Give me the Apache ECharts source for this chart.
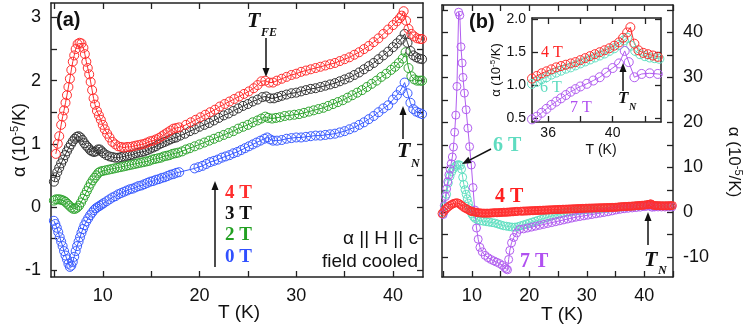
<!DOCTYPE html>
<html><head><meta charset="utf-8">
<script src="https://cdn.jsdelivr.net/npm/echarts@6/dist/echarts.min.js"></script>
<style>html,body{margin:0;padding:0;background:#fff}#c{width:749px;height:336px}</style>
</head><body><div id="c"></div>
<script>
// ---------- DATA (T in K, alpha in 1e-5/K) ----------
// Panel (a): field cooled, alpha || H || c
const a_4T = [[5.15,0.84],[5.35,1.0],[5.5,1.12],[5.7,1.3],[5.85,1.43],[6.0,1.53],[6.15,1.65],[6.3,1.77],[6.45,1.9],[6.6,2.03],[6.75,2.17],[6.9,2.3],[7.05,2.4],[7.2,2.5],[7.4,2.58],[7.6,2.6],[7.8,2.59],[8.0,2.52],[8.15,2.42],[8.3,2.3],[8.45,2.2],[8.6,2.1],[8.75,1.98],[8.9,1.85],[9.05,1.72],[9.2,1.62],[9.4,1.52],[9.6,1.45],[9.8,1.38],[10.0,1.3],[10.2,1.23],[10.45,1.16],[10.7,1.1],[11.0,1.03],[11.3,0.99],[11.6,0.96],[11.9,0.95],[12.2,0.94],[12.5,0.95],[12.8,0.95],[13.1,0.96],[13.4,0.97],[13.7,0.98],[14.0,0.99],[14.3,1.0],[14.6,1.02],[14.9,1.04],[15.2,1.05],[15.5,1.07],[15.8,1.09],[16.1,1.12],[16.4,1.15],[16.7,1.18],[17.0,1.21],[17.3,1.24],[17.6,1.25],[17.9,1.26],[18.6,1.3],[19.1,1.34],[19.6,1.38],[20.1,1.42],[20.6,1.46],[21.1,1.5],[21.6,1.54],[22.1,1.59],[22.6,1.63],[23.1,1.67],[23.6,1.71],[24.1,1.75],[24.6,1.79],[25.1,1.83],[25.6,1.88],[26.0,1.93],[26.4,1.99],[26.8,2.0],[27.2,1.97],[27.6,1.97],[28.0,2.0],[28.5,2.03],[29.0,2.06],[29.5,2.09],[30.0,2.11],[30.5,2.14],[31.0,2.16],[31.5,2.18],[32.0,2.2],[32.5,2.22],[33.0,2.24],[33.5,2.26],[34.0,2.28],[34.5,2.31],[35.0,2.34],[35.5,2.37],[36.0,2.41],[36.5,2.45],[37.0,2.5],[37.5,2.55],[38.0,2.61],[38.5,2.67],[39.0,2.74],[39.5,2.81],[40.0,2.88],[40.4,2.94],[40.7,2.99],[40.9,3.03],[41.1,3.1],[41.35,2.95],[41.6,2.82],[41.9,2.74],[42.2,2.7],[42.5,2.67],[42.8,2.66],[43.0,2.66]];
const a_3T = [[4.95,0.4],[5.1,0.47],[5.3,0.55],[5.5,0.62],[5.7,0.69],[5.9,0.75],[6.1,0.82],[6.3,0.88],[6.5,0.94],[6.7,0.99],[6.9,1.04],[7.1,1.08],[7.3,1.11],[7.5,1.12],[7.7,1.1],[7.9,1.06],[8.1,1.01],[8.3,0.97],[8.5,0.94],[8.7,0.9],[8.9,0.88],[9.1,0.87],[9.3,0.88],[9.5,0.91],[9.7,0.91],[9.9,0.88],[10.1,0.85],[10.4,0.82],[10.7,0.8],[11.0,0.79],[11.3,0.78],[11.6,0.78],[11.9,0.79],[12.2,0.8],[12.5,0.81],[12.8,0.82],[13.1,0.83],[13.4,0.85],[13.7,0.86],[14.0,0.87],[14.3,0.88],[14.6,0.9],[14.9,0.92],[15.2,0.94],[15.5,0.96],[15.8,0.99],[16.1,1.01],[16.4,1.03],[16.7,1.05],[17.0,1.07],[17.3,1.09],[17.6,1.1],[18.0,1.13],[18.5,1.16],[19.0,1.2],[19.5,1.23],[20.0,1.27],[20.5,1.3],[21.0,1.33],[21.5,1.37],[22.0,1.41],[22.5,1.45],[23.0,1.48],[23.5,1.52],[24.0,1.56],[24.5,1.6],[25.0,1.63],[25.5,1.67],[26.0,1.7],[26.5,1.74],[26.9,1.75],[27.3,1.72],[27.7,1.72],[28.1,1.74],[28.5,1.76],[29.0,1.78],[29.5,1.8],[30.0,1.81],[30.5,1.83],[31.0,1.85],[31.5,1.87],[32.0,1.88],[32.5,1.9],[33.0,1.92],[33.5,1.94],[34.0,1.96],[34.5,1.99],[35.0,2.02],[35.5,2.05],[36.0,2.09],[36.5,2.13],[37.0,2.18],[37.5,2.23],[38.0,2.28],[38.5,2.34],[39.0,2.4],[39.5,2.46],[40.0,2.53],[40.4,2.59],[40.8,2.65],[41.2,2.74],[41.5,2.6],[41.8,2.47],[42.1,2.4],[42.4,2.37],[42.7,2.35],[43.0,2.34]];
const a_2T = [[4.95,0.1],[5.15,0.12],[5.35,0.12],[5.55,0.12],[5.75,0.11],[5.95,0.1],[6.15,0.08],[6.35,0.05],[6.55,0.02],[6.75,-0.01],[6.95,-0.03],[7.15,-0.03],[7.35,-0.01],[7.55,0.02],[7.75,0.07],[7.95,0.13],[8.15,0.19],[8.35,0.25],[8.55,0.31],[8.75,0.37],[8.95,0.42],[9.15,0.46],[9.35,0.5],[9.55,0.54],[9.75,0.56],[10.0,0.57],[10.3,0.58],[10.6,0.59],[10.9,0.6],[11.2,0.61],[11.5,0.62],[11.8,0.63],[12.1,0.64],[12.4,0.65],[12.7,0.66],[13.0,0.67],[13.3,0.68],[13.6,0.69],[13.9,0.7],[14.2,0.71],[14.5,0.72],[14.8,0.73],[15.1,0.75],[15.4,0.76],[15.7,0.77],[16.0,0.78],[16.3,0.8],[16.6,0.81],[16.9,0.82],[17.2,0.84],[17.5,0.85],[17.8,0.86],[18.2,0.88],[18.6,0.91],[19.0,0.93],[19.5,0.96],[20.0,0.99],[20.5,1.02],[21.0,1.05],[21.5,1.08],[22.0,1.11],[22.5,1.14],[23.0,1.17],[23.5,1.2],[24.0,1.24],[24.5,1.27],[25.0,1.3],[25.5,1.34],[26.0,1.37],[26.4,1.4],[26.8,1.43],[27.1,1.41],[27.5,1.4],[27.9,1.41],[28.3,1.42],[28.8,1.44],[29.3,1.45],[29.8,1.46],[30.3,1.47],[30.8,1.49],[31.3,1.51],[31.8,1.53],[32.3,1.55],[32.8,1.57],[33.3,1.6],[33.8,1.63],[34.3,1.66],[34.8,1.69],[35.3,1.73],[35.8,1.77],[36.3,1.81],[36.8,1.85],[37.3,1.9],[37.8,1.95],[38.3,2.0],[38.8,2.06],[39.3,2.11],[39.8,2.17],[40.2,2.22],[40.6,2.28],[41.0,2.35],[41.3,2.45],[41.6,2.2],[41.9,2.07],[42.2,2.02],[42.5,2.0],[42.8,2.0],[43.0,2.0]];
const a_0T = [[4.95,-0.22],[5.1,-0.27],[5.25,-0.33],[5.4,-0.4],[5.55,-0.48],[5.7,-0.55],[5.85,-0.62],[6.0,-0.7],[6.15,-0.77],[6.3,-0.83],[6.45,-0.9],[6.6,-0.95],[6.75,-0.93],[6.9,-0.87],[7.05,-0.79],[7.2,-0.7],[7.35,-0.62],[7.5,-0.55],[7.65,-0.48],[7.8,-0.41],[7.95,-0.35],[8.1,-0.29],[8.3,-0.23],[8.5,-0.18],[8.7,-0.13],[8.9,-0.09],[9.1,-0.05],[9.3,-0.02],[9.5,0.0],[9.7,0.02],[9.9,0.04],[10.1,0.06],[10.4,0.09],[10.7,0.12],[11.0,0.15],[11.3,0.17],[11.6,0.2],[11.9,0.22],[12.2,0.24],[12.5,0.26],[12.8,0.28],[13.1,0.29],[13.4,0.31],[13.7,0.33],[14.0,0.34],[14.3,0.36],[14.6,0.38],[14.9,0.4],[15.2,0.41],[15.5,0.43],[15.8,0.44],[16.1,0.46],[16.4,0.47],[16.7,0.49],[17.0,0.51],[17.3,0.52],[17.6,0.54],[17.9,0.55],[19.5,0.61],[19.9,0.63],[20.3,0.65],[20.7,0.68],[21.1,0.71],[21.5,0.73],[21.9,0.75],[22.3,0.78],[22.7,0.8],[23.1,0.82],[23.5,0.85],[23.9,0.87],[24.3,0.9],[24.7,0.93],[25.1,0.96],[25.5,0.99],[25.9,1.02],[26.3,1.05],[26.7,1.08],[27.0,1.1],[27.3,1.07],[27.6,1.05],[28.0,1.05],[28.5,1.06],[29.0,1.08],[29.5,1.09],[30.0,1.1],[30.5,1.1],[31.0,1.11],[31.5,1.12],[32.0,1.13],[32.5,1.13],[33.0,1.14],[33.5,1.15],[34.0,1.16],[34.5,1.18],[35.0,1.2],[35.5,1.23],[36.0,1.26],[36.5,1.3],[37.0,1.34],[37.5,1.39],[38.0,1.44],[38.5,1.5],[39.0,1.56],[39.5,1.61],[40.0,1.7],[40.4,1.77],[40.8,1.85],[41.2,1.97],[41.5,1.8],[41.8,1.65],[42.1,1.55],[42.4,1.51],[42.7,1.49],[43.0,1.47]];

// Panel (b): main
const b_4T = [[4.8,-0.3],[5.1,0.2],[5.4,0.6],[5.7,1.0],[6.0,1.3],[6.3,1.6],[6.6,1.8],[6.9,2.0],[7.2,2.1],[7.5,2.1],[7.8,1.9],[8.1,1.6],[8.4,1.3],[8.7,1.0],[9.0,0.8],[9.3,0.6],[9.6,0.4],[9.8,0.25],[10.0,0.15],[10.25,0.1],[10.5,0.05],[10.75,0.0],[11.0,-0.1],[11.25,-0.12],[11.5,-0.15],[11.75,-0.18],[12.0,-0.2],[12.25,-0.2],[12.5,-0.2],[12.75,-0.2],[13.0,-0.2],[13.25,-0.18],[13.5,-0.15],[13.75,-0.12],[14.0,-0.1],[14.25,-0.1],[14.5,-0.1],[14.75,-0.08],[15.0,-0.05],[15.25,-0.03],[15.5,0.0],[15.75,0.0],[16.0,0.0],[16.25,0.03],[16.5,0.05],[16.75,0.08],[17.0,0.1],[17.25,0.12],[17.5,0.15],[17.75,0.18],[18.0,0.2],[18.5,0.23],[18.75,0.24],[19.0,0.26],[19.25,0.27],[19.5,0.28],[19.75,0.3],[20.0,0.31],[20.25,0.33],[20.5,0.34],[20.75,0.36],[21.0,0.37],[21.25,0.39],[21.5,0.4],[21.75,0.42],[22.0,0.43],[22.25,0.45],[22.5,0.46],[22.75,0.48],[23.0,0.49],[23.25,0.51],[23.5,0.52],[23.75,0.54],[24.0,0.55],[24.25,0.57],[24.5,0.58],[24.75,0.6],[25.0,0.61],[25.25,0.63],[25.5,0.64],[25.75,0.66],[26.0,0.67],[26.25,0.68],[26.5,0.69],[26.75,0.71],[27.0,0.72],[27.25,0.74],[27.5,0.75],[27.75,0.77],[28.0,0.78],[28.25,0.8],[28.5,0.81],[28.75,0.83],[29.0,0.84],[29.25,0.86],[29.5,0.87],[29.75,0.89],[30.0,0.9],[30.25,0.91],[30.5,0.92],[30.75,0.93],[31.0,0.94],[31.25,0.95],[31.5,0.96],[31.75,0.97],[32.0,0.98],[32.25,0.99],[32.5,1.0],[32.75,1.01],[33.0,1.02],[33.25,1.03],[33.5,1.04],[33.75,1.05],[34.0,1.06],[34.25,1.07],[34.5,1.08],[34.75,1.09],[35.0,1.1],[35.25,1.13],[35.5,1.17],[35.75,1.2],[36.0,1.23],[36.25,1.25],[36.5,1.27],[36.75,1.29],[37.0,1.3],[37.25,1.32],[37.5,1.34],[37.75,1.36],[38.0,1.38],[38.25,1.41],[38.5,1.43],[38.75,1.46],[39.0,1.48],[39.25,1.51],[39.5,1.53],[39.75,1.56],[40.0,1.59],[40.25,1.63],[40.5,1.68],[40.75,1.73],[41.0,1.82],[41.15,1.88],[41.4,1.63],[41.65,1.53],[41.9,1.49],[42.15,1.47],[42.4,1.46],[42.65,1.45],[42.9,1.44],[43.15,1.43],[43.4,1.43],[43.65,1.44],[43.9,1.44],[44.15,1.45],[44.4,1.46],[44.65,1.47],[44.9,1.5]];
const b_6T = [[5.0,-0.3],[5.3,1.3],[5.6,4.0],[5.9,6.5],[6.2,8.0],[6.5,9.0],[6.8,9.7],[7.1,10.2],[7.4,10.5],[7.7,10.6],[8.0,10.4],[8.2,9.6],[8.4,7.8],[8.6,6.2],[8.8,5.0],[9.0,4.0],[9.2,3.0],[9.4,2.0],[9.6,1.0],[9.8,0.2],[10.0,-0.4],[10.3,-1.0],[10.6,-1.4],[11.0,-1.7],[11.5,-1.9],[12.0,-2.0],[12.5,-2.1],[13.0,-2.2],[13.5,-2.3],[14.0,-2.4],[14.5,-2.6],[15.0,-2.8],[15.5,-3.0],[16.0,-3.1],[16.5,-3.2],[17.0,-3.3],[17.5,-3.3],[18.0,-3.2],[18.5,-3.0],[19.0,-2.8],[19.5,-2.6],[20.0,-2.4],[20.5,-2.2],[21.0,-2.0],[21.5,-1.8],[22.0,-1.6],[22.5,-1.4],[23.0,-1.2],[23.5,-1.0],[24.0,-0.8],[24.5,-0.6],[25.0,-0.45],[25.5,-0.3],[26.0,-0.15],[26.5,0.0],[27.0,0.1],[27.5,0.2],[28.0,0.3],[28.5,0.38],[29.0,0.45],[29.5,0.52],[30.0,0.58],[30.5,0.63],[31.0,0.68],[31.5,0.72],[32.0,0.76],[32.5,0.8],[33.0,0.84],[33.5,0.88],[34.0,0.92],[34.5,0.96],[35.0,1.02],[35.5,1.08],[36.0,1.14],[36.5,1.19],[37.0,1.24],[37.5,1.28],[38.0,1.33],[38.5,1.38],[39.0,1.43],[39.5,1.48],[40.0,1.55],[40.5,1.64],[40.9,1.72],[41.3,1.55],[41.7,1.47],[42.2,1.43],[42.7,1.41],[43.2,1.4],[43.7,1.4],[44.2,1.4],[44.7,1.41]];
const b_7T = [[5.0,-0.5],[5.2,1.5],[5.4,3.5],[5.6,5.2],[5.8,6.8],[6.0,8.3],[6.2,9.6],[6.4,10.8],[6.6,12.3],[6.8,14.5],[7.0,17.8],[7.2,21.6],[7.4,28.0],[7.7,44.5],[7.9,43.8],[8.1,36.8],[8.3,33.2],[8.45,30.0],[8.7,26.5],[9.0,22.8],[9.3,18.7],[9.6,14.6],[9.9,10.5],[10.2,5.5],[10.5,0.5],[10.8,-3.5],[11.1,-6.0],[11.4,-7.8],[11.8,-8.8],[12.3,-9.6],[12.8,-10.1],[13.3,-10.5],[13.8,-10.8],[14.3,-11.1],[14.8,-11.4],[15.3,-11.8],[15.7,-12.3],[16.0,-12.6],[16.2,-12.8],[16.4,-10.5],[16.6,-8.5],[16.9,-6.8],[17.3,-5.6],[17.8,-4.6],[18.3,-3.8],[19.0,-3.7],[19.7,-3.5],[20.4,-3.3],[21.1,-3.1],[21.8,-2.9],[22.5,-2.7],[23.2,-2.5],[23.9,-2.3],[24.6,-2.1],[25.3,-1.9],[26.0,-1.7],[26.7,-1.5],[27.4,-1.3],[28.1,-1.1],[28.8,-0.95],[29.5,-0.8],[30.2,-0.65],[30.9,-0.5],[31.6,-0.35],[32.3,-0.2],[33.0,-0.05],[33.7,0.1],[34.4,0.3],[35.1,0.5],[35.8,0.65],[36.5,0.78],[37.2,0.88],[37.9,0.96],[38.6,1.04],[39.3,1.13],[40.0,1.26],[40.4,1.33],[40.75,1.52],[41.0,1.35],[41.35,1.12],[41.8,1.17],[42.4,1.18],[43.0,1.17],[43.6,1.16],[44.2,1.16],[44.8,1.16]];

// Panel (b): inset near T_N
const in_4T = [[35.0,1.1],[35.3,1.14],[35.6,1.18],[35.9,1.21],[36.2,1.24],[36.5,1.27],[36.8,1.29],[37.1,1.31],[37.4,1.33],[37.7,1.35],[38.0,1.38],[38.3,1.41],[38.6,1.44],[38.9,1.47],[39.2,1.5],[39.5,1.53],[39.8,1.56],[40.1,1.6],[40.4,1.65],[40.65,1.72],[40.9,1.8],[41.1,1.88],[41.35,1.63],[41.6,1.53],[41.9,1.49],[42.2,1.47],[42.5,1.45],[42.8,1.43],[43.05,1.43]];
const in_6T = [[35.0,1.02],[35.3,1.05],[35.6,1.09],[35.9,1.12],[36.2,1.16],[36.5,1.19],[36.8,1.22],[37.1,1.25],[37.4,1.27],[37.7,1.3],[38.0,1.33],[38.3,1.36],[38.6,1.39],[38.9,1.42],[39.2,1.45],[39.5,1.48],[39.8,1.52],[40.1,1.56],[40.4,1.61],[40.7,1.68],[40.9,1.72],[41.15,1.6],[41.4,1.52],[41.7,1.47],[42.0,1.44],[42.3,1.42],[42.6,1.41],[42.9,1.4]];
const in_7T = [[35.0,0.48],[35.3,0.52],[35.6,0.58],[35.9,0.64],[36.2,0.7],[36.5,0.75],[36.8,0.8],[37.1,0.85],[37.4,0.9],[37.7,0.94],[38.0,0.98],[38.4,1.02],[38.8,1.07],[39.2,1.12],[39.6,1.19],[40.0,1.26],[40.4,1.33],[40.75,1.52],[41.0,1.35],[41.35,1.12],[41.8,1.17],[42.3,1.18],[42.8,1.17],[43.1,1.16]];

// Tick / label positions
const aXTicks = [5,10,15,20,25,30,35,40];
const aXLabels = [10,20,30,40];
const aYTicks = [-1,-0.5,0,0.5,1,1.5,2,2.5,3];
const aYLabels = [-1,0,1,2,3];
const bXTicks = [5,10,15,20,25,30,35,40,45];
const bXLabels = [10,20,30,40];
const bYTicks = [-10,-5,0,5,10,15,20,25,30,35,40,45];
const bYLabels = [-10,0,10,20,30,40];
const inXTicks = [36,38,40,42];
const inXLabels = [36,40];
const inYTicks = [0.5,1.0,1.5,2.0];
const inYLabels = [0.5,1.0,1.5,2.0];

// ---------- STYLE ----------
const SANS = '"Liberation Sans", Arial, sans-serif';
const SERIF = '"Liberation Serif", "Times New Roman", serif';
const C = {red:'#ff2e2e', black:'#333333', green:'#2fa52f', blue:'#3a5cff', cyan:'#62e0c2', purple:'#b25ef0'};
const AX = '#222';

function axis(gi, pos, min, max, ticks, labels, fs, fmt, margin) {
  return {
    type:'value', gridIndex:gi, position:pos, min, max, scale:false,
    axisLine:{show:true, onZero:false, lineStyle:{color:AX, width:1.5}},
    axisTick:{show:true, inside:true, length:6, customValues:ticks, lineStyle:{color:AX, width:1.3}},
    axisLabel:{show:!!labels, customValues:labels||[], fontSize:fs, color:'#111', fontFamily:SANS, margin:margin, formatter:fmt},
    splitLine:{show:false}, minorTick:{show:false}
  };
}
function ser(data, color, xi, yi, size, z) {
  return {type:'line', xAxisIndex:xi, yAxisIndex:yi, data, symbol:'circle', symbolSize:size,
    showSymbol:true, showAllSymbol:true, animation:false, silent:true, z:z||2,
    itemStyle:{color:'rgba(255,255,255,0)', borderColor:color, borderWidth:1},
    lineStyle:{color, width:1}};
}
function txt(x, y, s, font, fill, align, vAlign, rot) {
  return {type:'text', x, y, rotation:rot||0, silent:true, z:100,
    style:{text:s, font, fill, textAlign:align||'left', textVerticalAlign:vAlign||'middle'}};
}
function arrow(x1, y1, x2, y2) {
  const ang = Math.atan2(y2-y1, x2-x1), L = 9, W = 3.5;
  const bx = x2 - L*Math.cos(ang), by = y2 - L*Math.sin(ang);
  const px = -Math.sin(ang)*W, py = Math.cos(ang)*W;
  return [
    {type:'line', silent:true, z:100, shape:{x1, y1, x2:bx, y2:by}, style:{stroke:'#111', lineWidth:1.5}},
    {type:'polygon', silent:true, z:100, shape:{points:[[x2,y2],[bx+px,by+py],[bx-px,by-py]]}, style:{fill:'#111'}}
  ];
}
function alphaLabel(x, y, rot, fs) {
  return {type:'text', x, y, rotation:rot, silent:true, z:100,
    style:{text:'{a|α (10}{s|-5}{a|/K)}', textAlign:'center', textVerticalAlign:'middle',
      rich:{a:{fontSize:fs, fontFamily:SANS, fill:'#111'}, s:{fontSize:Math.round(fs*0.62), fontFamily:SANS, fill:'#111', padding:[0,0,Math.round(fs*0.55),0]}}}};
}

const fmt1 = v => v.toFixed(1);
const fmt0 = v => String(v);

const option = {
  backgroundColor:'#fff', animation:false,
  grid:[
    {left:51, top:3, width:372, height:274},
    {left:442, top:5, width:231, height:272},
    {left:532, top:18, width:129, height:104, show:true, backgroundColor:'#fff', borderWidth:0}
  ],
  xAxis:[
    axis(0,'bottom',4.65,43.1,aXTicks,aXLabels,18,fmt0,10),
    axis(0,'top',4.65,43.1,aXTicks,null,18,fmt0,10),
    axis(1,'bottom',4.8,45,bXTicks,bXLabels,18,fmt0,10),
    axis(1,'top',4.8,45,bXTicks,null,18,fmt0,10),
    axis(2,'bottom',35,43,inXTicks,inXLabels,14,fmt0,4),
    axis(2,'top',35,43,inXTicks,null,14,fmt0,4)
  ],
  yAxis:[
    axis(0,'left',-1.11,3.23,aYTicks,aYLabels,18,fmt0,10),
    axis(0,'right',-1.11,3.23,aYTicks,null,18,fmt0,10),
    axis(1,'left',-14.4,46.1,bYTicks,null,18,fmt0,10),
    axis(1,'right',-14.4,46.1,bYTicks,bYLabels,18,fmt0,10),
    axis(2,'left',0.44,2.02,inYTicks,inYLabels,14,fmt1,6),
    axis(2,'right',0.44,2.02,inYTicks,null,14,fmt1,6)
  ],
  series:[
    ser(a_0T, C.blue, 0, 0, 9),
    ser(a_2T, C.green, 0, 0, 9),
    ser(a_3T, C.black, 0, 0, 9),
    ser(a_4T, C.red, 0, 0, 9),
    ser(b_6T, C.cyan, 2, 2, 8),
    ser(b_7T, C.purple, 2, 2, 8),
    ser(b_4T, C.red, 2, 2, 8),
    ser(in_6T, C.cyan, 4, 4, 9, 5),
    ser(in_7T, C.purple, 4, 4, 9, 5),
    ser(in_4T, C.red, 4, 4, 9, 5)
  ],
  graphic:[
    // axis titles
    alphaLabel(20, 140, Math.PI/2, 18),
    alphaLabel(734, 162, -Math.PI/2, 17),
    alphaLabel(496, 70, Math.PI/2, 13),
    txt(239, 313, 'T (K)', '19px '+SANS, '#111', 'center'),
    txt(562, 315, 'T (K)', '19px '+SANS, '#111', 'center'),
    txt(601, 150, 'T (K)', '14px '+SANS, '#111', 'center'),
    // panel labels
    txt(56, 20, '(a)', 'bold 20px '+SANS, '#111'),
    txt(469, 22, '(b)', 'bold 20px '+SANS, '#111'),
    // T_FE
    txt(247, 21, 'T', 'italic bold 22px '+SERIF, '#111'),
    txt(261, 33, 'FE', 'italic bold 12px '+SERIF, '#111'),
    ...arrow(266, 38, 266, 77),
    // T_N panel a
    txt(397, 151, 'T', 'italic bold 22px '+SERIF, '#111'),
    txt(411, 164, 'N', 'italic bold 12px '+SERIF, '#111'),
    ...arrow(403, 139, 403, 106),
    // legend panel a
    ...arrow(215, 267, 215, 181),
    txt(225, 193, '4 T', 'bold 19px '+SERIF, C.red),
    txt(225, 214, '3 T', 'bold 19px '+SERIF, '#111'),
    txt(225, 235, '2 T', 'bold 19px '+SERIF, '#22a022'),
    txt(225, 257, '0 T', 'bold 19px '+SERIF, '#3050ff'),
    txt(418, 239, 'α || H || c', '19px '+SANS, '#111', 'right'),
    txt(418, 262, 'field cooled', '19px '+SANS, '#111', 'right'),
    // panel b labels
    txt(493, 146, '6 T', 'bold 20px '+SERIF, '#5fdcc0'),
    ...arrow(491, 149, 462, 164),
    txt(495, 197, '4 T', 'bold 20px '+SERIF, '#ff2020'),
    txt(520, 262, '7 T', 'bold 20px '+SERIF, '#b050f0'),
    txt(644, 260, 'T', 'italic bold 22px '+SERIF, '#111'),
    txt(658, 271, 'N', 'italic bold 12px '+SERIF, '#111'),
    ...arrow(648, 245, 648, 212),
    // inset labels
    txt(541, 53, '4 T', '16px '+SERIF, '#ff2020'),
    txt(540, 88, '6 T', '16px '+SERIF, '#5fdcc0'),
    txt(570, 108, '7 T', '16px '+SERIF, '#b050f0'),
    txt(618, 99, 'T', 'italic bold 17px '+SERIF, '#111'),
    txt(629, 107, 'N', 'italic bold 10px '+SERIF, '#111'),
    ...arrow(623, 91, 623, 63)
  ]
};
const chart = echarts.init(document.getElementById('c'), null, {renderer:'canvas', width:749, height:336});
chart.setOption(option);
</script></body></html>
